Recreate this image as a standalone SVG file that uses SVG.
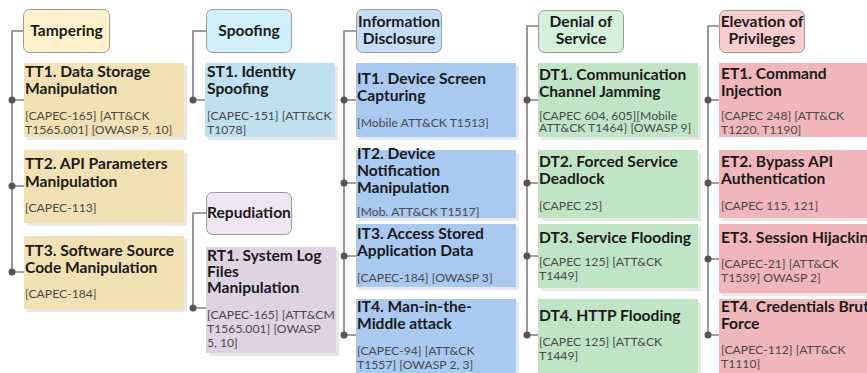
<svg xmlns="http://www.w3.org/2000/svg" width="867" height="373" viewBox="0 0 867 373">
<defs>
<style>
.hd{stroke:#9a9a9a;stroke-width:1}
.sh{fill:#d9d9d9;opacity:0.6}
.t{font-family:Lato,"Open Sans",sans-serif;font-weight:bold;font-size:15.6px;fill:#1a1a1a}
.h{font-family:Lato,"Open Sans",sans-serif;font-weight:bold;font-size:15.6px;fill:#1a1a1a;text-anchor:middle}
.r{font-family:Lato,"Open Sans",sans-serif;font-size:12.2px;fill:#4a4a4a}
.ln{stroke:#808080;stroke-width:1.6;fill:none}
.dot{fill:#555555}
.y1{fill:#fff2cc}.y2{fill:#f2e1b3}
.b1{fill:#d2f0fc}.b2{fill:#bfe0ee}
.p1{fill:#eee6f0}.p2{fill:#ddd3e2}
.i1{fill:#c6ddf8}.i2{fill:#a9c9f0}
.g1{fill:#d4f1da}.g2{fill:#bfe5c5}
.r1{fill:#f9cccd}.r2{fill:#f0b6b9}
</style>
</defs>
<rect width="867" height="373" fill="#ffffff"/>

<g id="connectors">
<path class="ln" d="M23 31H12V272M12 100H24M12 186H24M12 272H24"/>
<path class="ln" d="M206 31H193V100H206"/>
<path class="ln" d="M206 213H193V308H206"/>
<path class="ln" d="M356 31H344V335M344 100H356M344 183H356M344 256H356M344 335H356"/>
<path class="ln" d="M538 26H527V335M527 100H538M527 183H538M527 256H538M527 335H538"/>
<path class="ln" d="M719 26H708V335M708 100H719M708 183H719M708 259H719M708 335H719"/>
<g class="dot">
<circle cx="12" cy="100" r="3.5"/><circle cx="12" cy="186" r="3.5"/><circle cx="12" cy="272" r="3.5"/>
<circle cx="193" cy="100" r="3.5"/><circle cx="193" cy="308" r="3.5"/>
<circle cx="344" cy="100" r="3.5"/><circle cx="344" cy="183" r="3.5"/><circle cx="344" cy="256" r="3.5"/><circle cx="344" cy="335" r="3.5"/>
<circle cx="527" cy="100" r="3.5"/><circle cx="527" cy="183" r="3.5"/><circle cx="527" cy="256" r="3.5"/><circle cx="527" cy="335" r="3.5"/>
<circle cx="708" cy="100" r="3.5"/><circle cx="708" cy="183" r="3.5"/><circle cx="708" cy="259" r="3.5"/><circle cx="708" cy="335" r="3.5"/>
</g>
</g>

<!-- Tampering -->
<g id="tampering">
<rect class="hd y1" x="23.5" y="9.5" width="86" height="43" rx="6"/>
<text class="h" x="66.5" y="36">Tampering</text>
</g>
<g id="TT1">
<rect class="sh" x="27" y="66" width="160" height="74"/>
<rect class="y2" x="24" y="63" width="160" height="74"/>
<text class="t" x="25" y="77">TT1. Data Storage</text>
<text class="t" x="25" y="94">Manipulation</text>
<text class="r" x="25" y="120">[CAPEC-165] [ATT&amp;CK</text>
<text class="r" x="25" y="134">T1565.001] [OWASP 5, 10]</text>
</g>
<g id="TT2">
<rect class="sh" x="27" y="153" width="160" height="73"/>
<rect class="y2" x="24" y="150" width="160" height="73"/>
<text class="t" x="25" y="169">TT2. API Parameters</text>
<text class="t" x="25" y="187">Manipulation</text>
<text class="r" x="25" y="212">[CAPEC-113]</text>
</g>
<g id="TT3">
<rect class="sh" x="27" y="239" width="160" height="73"/>
<rect class="y2" x="24" y="236" width="160" height="73"/>
<text class="t" x="25" y="256">TT3. Software Source</text>
<text class="t" x="25" y="273">Code Manipulation</text>
<text class="r" x="25" y="298">[CAPEC-184]</text>
</g>

<!-- Spoofing -->
<g id="spoofing">
<rect class="hd b1" x="206.5" y="9.5" width="85" height="43" rx="6"/>
<text class="h" x="249" y="36">Spoofing</text>
</g>
<g id="ST1">
<rect class="sh" x="208" y="66" width="130" height="74"/>
<rect class="b2" x="205" y="63" width="130" height="74"/>
<text class="t" x="207" y="77">ST1. Identity</text>
<text class="t" x="207" y="94">Spoofing</text>
<text class="r" x="207" y="120">[CAPEC-151] [ATT&amp;CK</text>
<text class="r" x="207" y="134">T1078]</text>
</g>

<!-- Repudiation -->
<g id="repudiation">
<rect class="hd p1" x="206.5" y="192.5" width="85" height="42" rx="6"/>
<text class="t" x="207" y="218">Repudiation</text>
</g>
<g id="RT1">
<rect class="sh" x="209" y="250" width="130" height="106"/>
<rect class="p2" x="206" y="247" width="130" height="106"/>
<text class="t" x="207" y="261">RT1. System Log</text>
<text class="t" x="207" y="277">Files</text>
<text class="t" x="207" y="293">Manipulation</text>
<text class="r" x="207" y="319">[CAPEC-165] [ATT&amp;CM</text>
<text class="r" x="207" y="333">T1565.001] [OWASP</text>
<text class="r" x="207" y="347">5, 10]</text>
</g>

<!-- Information Disclosure -->
<g id="info">
<rect class="hd i1" x="356.5" y="9.5" width="85" height="43" rx="6"/>
<text class="h" x="399" y="27">Information</text>
<text class="h" x="399" y="44">Disclosure</text>
</g>
<g id="IT1">
<rect class="sh" x="359" y="66" width="160" height="74"/>
<rect class="i2" x="356" y="63" width="160" height="74"/>
<text class="t" x="357" y="84">IT1. Device Screen</text>
<text class="t" x="357" y="101">Capturing</text>
<text class="r" x="357" y="127">[Mobile ATT&amp;CK T1513]</text>
</g>
<g id="IT2">
<rect class="sh" x="359" y="153" width="160" height="68"/>
<rect class="i2" x="356" y="150" width="160" height="68"/>
<text class="t" x="357" y="159">IT2. Device</text>
<text class="t" x="357" y="176">Notification</text>
<text class="t" x="357" y="193">Manipulation</text>
<text class="r" x="357" y="216">[Mob. ATT&amp;CK T1517]</text>
</g>
<g id="IT3">
<rect class="sh" x="359" y="227" width="160" height="63"/>
<rect class="i2" x="356" y="224" width="160" height="63"/>
<text class="t" x="357" y="239">IT3. Access Stored</text>
<text class="t" x="357" y="256">Application Data</text>
<text class="r" x="357" y="282">[CAPEC-184] [OWASP 3]</text>
</g>
<g id="IT4">
<rect class="sh" x="359" y="302" width="160" height="80"/>
<rect class="i2" x="356" y="299" width="160" height="80"/>
<text class="t" x="357" y="312">IT4. Man-in-the-</text>
<text class="t" x="357" y="329">Middle attack</text>
<text class="r" x="357" y="355">[CAPEC-94] [ATT&amp;CK</text>
<text class="r" x="357" y="369">T1557] [OWASP 2, 3]</text>
</g>

<!-- Denial of Service -->
<g id="dos">
<rect class="hd g1" x="538.5" y="10.5" width="85" height="42" rx="6"/>
<text class="h" x="581" y="27">Denial of</text>
<text class="h" x="581" y="44">Service</text>
</g>
<g id="DT1">
<rect class="sh" x="541" y="66" width="160" height="74"/>
<rect class="g2" x="538" y="63" width="160" height="74"/>
<text class="t" x="539" y="80">DT1. Communication</text>
<text class="t" x="539" y="97">Channel  Jamming</text>
<text class="r" x="539" y="120">[CAPEC 604, 605][Mobile</text>
<text class="r" x="539" y="132">ATT&amp;CK T1464] [OWASP 9]</text>
</g>
<g id="DT2">
<rect class="sh" x="541" y="153" width="160" height="68"/>
<rect class="g2" x="538" y="150" width="160" height="68"/>
<text class="t" x="539" y="167">DT2. Forced Service</text>
<text class="t" x="539" y="184">Deadlock</text>
<text class="r" x="539" y="210">[CAPEC 25]</text>
</g>
<g id="DT3">
<rect class="sh" x="541" y="227" width="160" height="64"/>
<rect class="g2" x="538" y="224" width="160" height="64"/>
<text class="t" x="539" y="243">DT3. Service Flooding</text>
<text class="r" x="539" y="266">[CAPEC 125] [ATT&amp;CK</text>
<text class="r" x="539" y="280">T1449]</text>
</g>
<g id="DT4">
<rect class="sh" x="541" y="302" width="160" height="80"/>
<rect class="g2" x="538" y="299" width="160" height="80"/>
<text class="t" x="539" y="321">DT4. HTTP Flooding</text>
<text class="r" x="539" y="346">[CAPEC 125] [ATT&amp;CK</text>
<text class="r" x="539" y="360">T1449]</text>
</g>

<!-- Elevation of Privileges -->
<g id="eop">
<rect class="hd r1" x="719.5" y="10.5" width="85" height="42" rx="6"/>
<text class="h" x="762" y="27">Elevation of</text>
<text class="h" x="762" y="44">Privileges</text>
</g>
<g id="ET1">
<rect class="r2" x="719" y="63" width="160" height="74"/>
<text class="t" x="721" y="79">ET1. Command</text>
<text class="t" x="721" y="96">Injection</text>
<text class="r" x="721" y="120">[CAPEC 248] [ATT&amp;CK</text>
<text class="r" x="721" y="134">T1220, T1190]</text>
</g>
<g id="ET2">
<rect class="sh" x="722" y="153" width="160" height="68"/>
<rect class="r2" x="719" y="150" width="160" height="68"/>
<text class="t" x="721" y="167">ET2. Bypass API</text>
<text class="t" x="721" y="184">Authentication</text>
<text class="r" x="721" y="210">[CAPEC 115, 121]</text>
</g>
<g id="ET3">
<rect class="sh" x="722" y="227" width="160" height="69"/>
<rect class="r2" x="719" y="224" width="160" height="69"/>
<text class="t" x="721" y="243">ET3. Session Hijacking</text>
<text class="r" x="721" y="268">[CAPEC-21] [ATT&amp;CK</text>
<text class="r" x="721" y="282">T1539] OWASP 2]</text>
</g>
<g id="ET4">
<rect class="r2" x="719" y="299" width="160" height="80"/>
<text class="t" x="721" y="312">ET4. Credentials Brute</text>
<text class="t" x="721" y="329">Force</text>
<text class="r" x="721" y="354">[CAPEC-112] [ATT&amp;CK</text>
<text class="r" x="721" y="368">T1110]</text>
</g>
</svg>
